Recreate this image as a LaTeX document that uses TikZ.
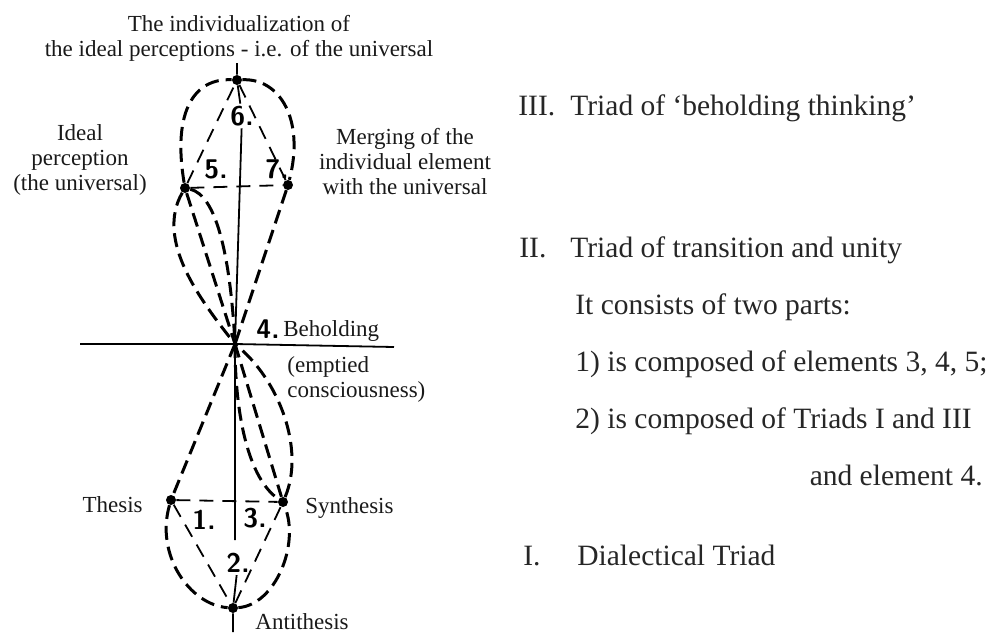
\documentclass[tikz,border=0pt]{standalone}
\usepackage{fontspec}
\setmainfont{Liberation Serif}

\begin{document}
\begin{tikzpicture}[x=0.5pt, y=-0.5pt,
    dashline/.style={line width=1.5pt, dash pattern=on 7pt off 3.5pt},
    thindash/.style={line width=0.9pt, dash pattern=on 7pt off 4.5pt},
    axisline/.style={line width=0.9pt},
    dotnode/.style={circle, fill, inner sep=0pt, minimum size=5pt},
    lbl/.style={font=\fontsize{11.5}{12.5}\selectfont, align=center, inner sep=0pt, text=black!90},
    num/.style={font=\fontsize{13.5}{13.5}\sffamily\bfseries, inner sep=1pt},
    txt/.style={font=\fontsize{14.75}{16}\selectfont, anchor=base west, inner sep=0pt, text=black!85}]
    \useasboundingbox (0,0) rectangle (998,633);

    \node[dotnode] (p6) at (237,80) {};
    \node[dotnode] (p5) at (185,188) {};
    \node[dotnode] (p7) at (288,185) {};
    \coordinate (p4) at (235,344);
    \node[dotnode] (p1) at (171,500) {};
    \node[dotnode] (p3) at (283,502) {};
    \node[dotnode] (p2) at (233,608) {};

    \node[num] (n6) at (242,116) {6.};
    \node[num] (n5) at (216,169) {5.};
    \node[num] (n7) at (277,169) {7.};
    \node[num] (n4) at (268,329) {4.};
    \node[num] (n1) at (204,520) {1.};
    \node[num] (n3) at (255,518) {3.};
    \node[num] (n2) at (238,563) {2.};

    \coordinate (vtop) at (237,63);
    \coordinate (vlow) at (235,540);
    \coordinate (vbot) at (233,632);
    \coordinate (hl) at (80,344);
    \coordinate (hr) at (394,347);
    \draw[axisline] (vtop) -- (p6) -- (n6);
    \draw[axisline] (n6) -- (p4) -- (vlow);
    \draw[axisline] (n2) -- (p2) -- (vbot);
    \draw[axisline] (hl) -- (p4) -- (hr);

    \draw[dashline] (p5) .. controls (172,110) and (195,78) .. (p6)
        .. controls (280,78) and (305,120) .. (p7);
    \draw[dashline] (p7) -- (p4);
    \draw[dashline] (p5) .. controls (155,240) and (200,300) .. (p4);
    \draw[dashline] (p5) -- (p4);
    \draw[dashline] (p5) .. controls (215,195) and (230,250) .. (p4);
    \draw[thindash] (p5) -- (p6) -- (p7);
    \draw[thindash] (p5) -- (p7);

    \draw[dashline] (p4) -- (p1);
    \draw[dashline] (p1) .. controls (155,555) and (190,605) .. (p2)
        .. controls (275,605) and (300,545) .. (p3);
    \draw[dashline] (p3) .. controls (305,450) and (280,380) .. (p4);
    \draw[dashline] (p4) -- (p3);
    \draw[dashline] (p4) .. controls (235,420) and (250,480) .. (p3);
    \draw[thindash] (p1) -- (p2) -- (p3);
    \draw[thindash] (p1) -- (p3);

    \node[lbl] (top) at (239,38) {The individualization of\\the ideal perceptions - i.e. of the universal};
    \node[lbl] (ideal) at (80,160) {Ideal\\perception\\(the universal)};
    \node[lbl] (merge) at (405,162) {Merging of the\\individual element\\with the universal};
    \node[lbl, anchor=base west] (behold) at (283,336) {Beholding};
    \node[lbl, anchor=west, align=left] (empty) at (287,379) {(emptied\\consciousness)};
    \node[lbl, anchor=base east] (thesis) at (143,512) {Thesis};
    \node[lbl, anchor=base west] (synth) at (305,513) {Synthesis};
    \node[lbl, anchor=base west] (anti) at (255,629) {Antithesis};

    \node[txt] (t3) at (518,115) {III.};
    \node[txt] (t3b) at (570,115) {Triad of `beholding thinking'};
    \node[txt] (t2) at (519,257) {II.};
    \node[txt] (t2b) at (570,257) {Triad of transition and unity};
    \node[txt] (t2c) at (575,314) {It consists of two parts:};
    \node[txt] (t2d) at (575,371) {1) is composed of elements 3, 4, 5;};
    \node[txt] (t2e) at (575,428) {2) is composed of Triads I and III};
    \node[txt, anchor=base east] (t2f) at (983,485) {and element 4.};
    \node[txt] (t1) at (523,565) {I.};
    \node[txt] (t1b) at (577,565) {Dialectical Triad};
\end{tikzpicture}
\end{document}
